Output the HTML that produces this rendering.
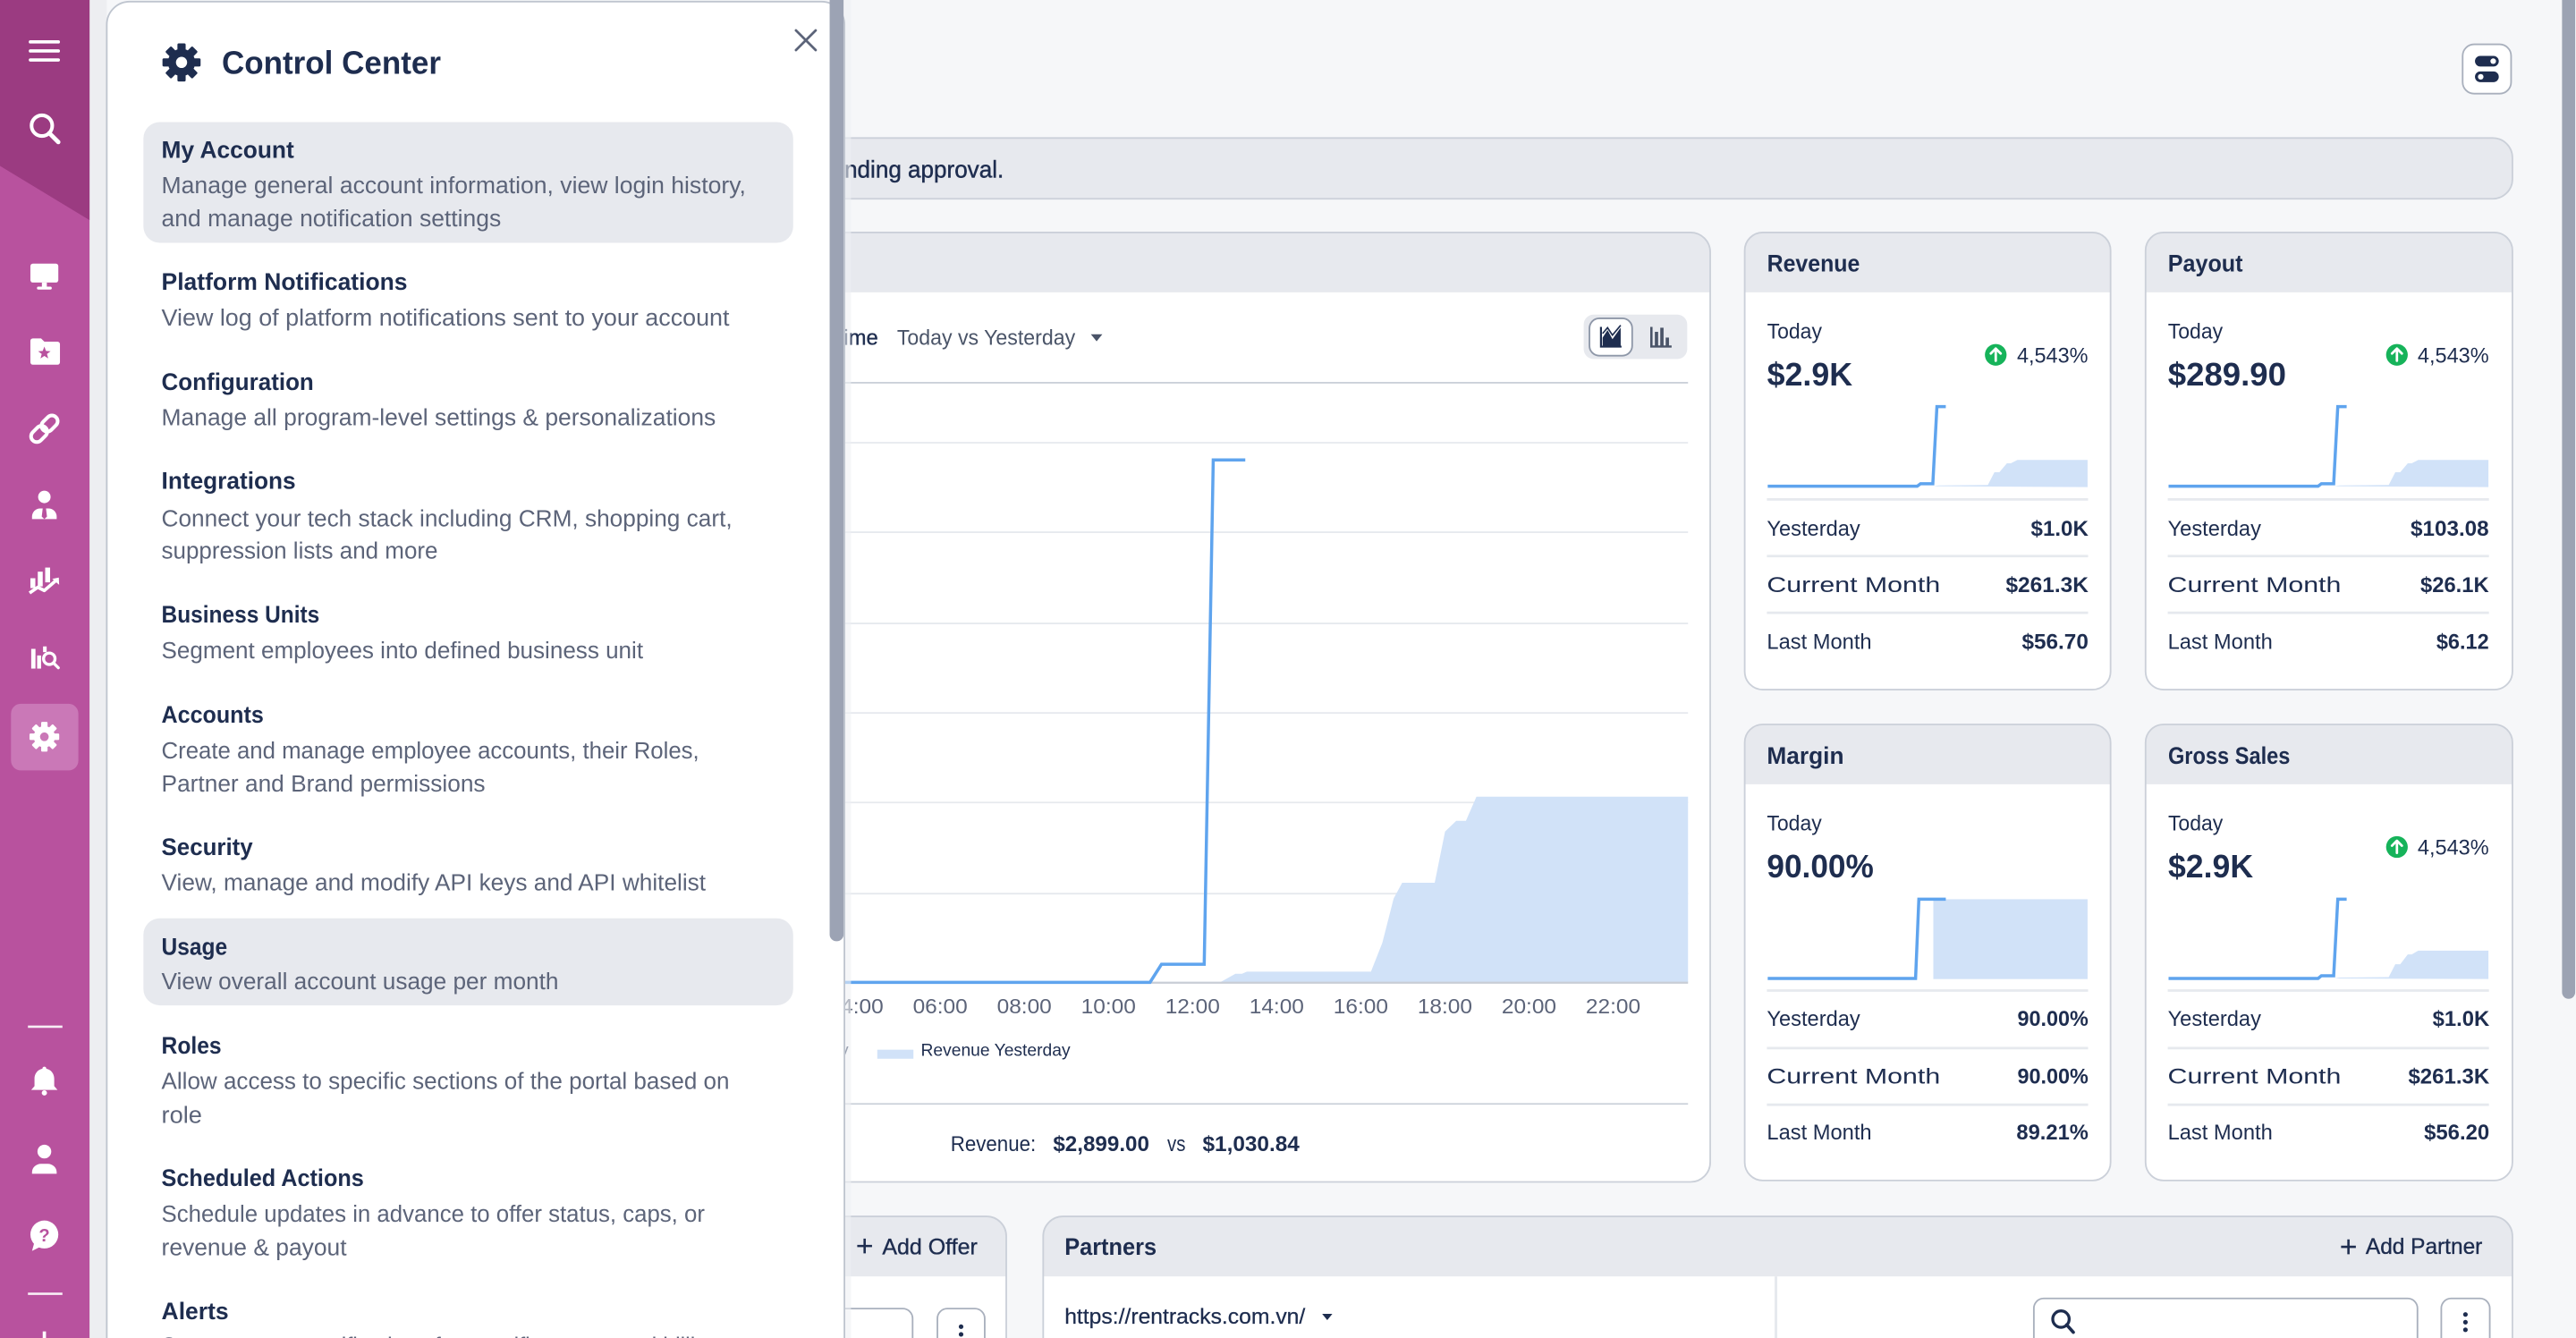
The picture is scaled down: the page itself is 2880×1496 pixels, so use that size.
<!DOCTYPE html>
<html><head><meta charset="utf-8"><style>
html,body{margin:0;padding:0;background:#F6F7F9;overflow:hidden;width:2880px;height:1496px;}
svg{display:block;overflow:hidden;}
.t{font-family:'Liberation Sans',sans-serif;fill:#1E2D4F;}
.b{font-weight:700;}
.g{fill:#5C6479;}
</style></head><body>
<svg xmlns="http://www.w3.org/2000/svg" width="2880" height="1496" viewBox="0 0 1568 814.5" preserveAspectRatio="none">
<defs><clipPath id="cp"><rect x="0" y="0" width="1568" height="814.5"/></clipPath></defs>
<g clip-path="url(#cp)">
<rect x="0" y="0" width="1568" height="814.5" fill="#F6F7F9"/>

<!-- top right toggle button -->
<rect x="1499" y="27" width="29.5" height="30" rx="7" fill="#fff" stroke="#A9B0BD" stroke-width="1"/>
<rect x="1506.5" y="34" width="14.5" height="6.5" rx="3.25" fill="#1E2D4F"/>
<circle cx="1517.6" cy="37.25" r="1.7" fill="#fff"/>
<rect x="1506.5" y="43.5" width="14.5" height="6.5" rx="3.25" fill="#1E2D4F"/>
<circle cx="1510" cy="46.75" r="1.7" fill="#fff"/>

<!-- banner -->
<rect x="80" y="84" width="1449.3" height="37" rx="12" fill="#E7E9EE" stroke="#CBD0D9" stroke-width="1"/>
<text class="t" x="300" y="108" font-size="14.5">You have items pe</text>
<text class="t" x="514" y="108" font-size="14.5" stroke="#1E2D4F" stroke-width="0.25" textLength="97" lengthAdjust="spacingAndGlyphs">nding approval.</text>

<!-- chart card -->
<rect x="80" y="141.5" width="961" height="578" rx="12" fill="#fff"/>
<path d="M80,178 V153.5 A12 12 0 0 1 92,141.5 H1029 A12 12 0 0 1 1041,153.5 V178 Z" fill="#E7E9EE"/>
<rect x="80" y="141.5" width="961" height="578" rx="12" fill="none" stroke="#CBD0D9" stroke-width="1"/>

<text class="t" x="534.5" y="210" font-size="13" text-anchor="end" stroke="#1E2D4F" stroke-width="0.2">Time</text>
<text class="t" x="546" y="210" font-size="13" style="fill:#4A5468" textLength="108.5" lengthAdjust="spacingAndGlyphs">Today vs Yesterday</text>
<polygon points="664,203.5 671,203.5 667.5,207.8" fill="#4A5468"/>

<rect x="964" y="191.5" width="63" height="27" rx="6" fill="#E7E9EE"/>
<rect x="967.5" y="193.8" width="26" height="22.7" rx="6" fill="#fff" stroke="#8E97A8" stroke-width="1"/>
<path d="M974.5,199 V211 H987" fill="none" stroke="#1E2D4F" stroke-width="1.2"/>
<polygon points="975.5,211 975.5,205.5 978.5,201 981.5,206.5 986.5,199.5 986.5,211" fill="#1E2D4F"/>
<polyline points="975.5,203 978.5,199.5 981.5,204 986.5,198" fill="none" stroke="#1E2D4F" stroke-width="0.9"/>
<g fill="#4A5468">
<rect x="1004.5" y="199" width="1.4" height="12.5"/>
<rect x="1007.3" y="202" width="2" height="8.5"/>
<rect x="1010.6" y="199.5" width="2" height="11"/>
<rect x="1013.9" y="205.5" width="2" height="5"/>
<rect x="1004.5" y="210.3" width="13" height="1.3"/>
</g>

<line x1="80" y1="233" x2="1027.5" y2="233" stroke="#CBD0D9" stroke-width="1"/>
<g stroke="#E6E9EE" stroke-width="1">
<line x1="80" y1="269.5" x2="1027.5" y2="269.5"/>
<line x1="80" y1="324" x2="1027.5" y2="324"/>
<line x1="80" y1="379.5" x2="1027.5" y2="379.5"/>
<line x1="80" y1="434" x2="1027.5" y2="434"/>
<line x1="80" y1="488.5" x2="1027.5" y2="488.5"/>
<line x1="80" y1="544" x2="1027.5" y2="544"/>
</g>
<polygon points="742.6,598 752,592.8 756,592.8 759,591.5 834.5,591.5 841.4,574 848.3,547 853.5,537.4 873.3,537.4 879.6,506.2 886.4,499.7 892.3,499.7 898.7,485 1027.5,485 1027.5,598" fill="#D1E2F8"/>
<line x1="80" y1="598.2" x2="1027.5" y2="598.2" stroke="#C8CDD6" stroke-width="1.2"/>
<polyline points="60,598 700,598 707,587 733,587 738.5,280 758,280" fill="none" stroke="#5FA4EE" stroke-width="1.9"/>

<g class="t g" font-size="12.5" text-anchor="middle">
<text x="418.7" y="617" textLength="33.3" lengthAdjust="spacingAndGlyphs">00:00</text>
<text x="469.9" y="617" textLength="33.3" lengthAdjust="spacingAndGlyphs">02:00</text>
<text x="521.1" y="617" textLength="33.3" lengthAdjust="spacingAndGlyphs">04:00</text>
<text x="572.3" y="617" textLength="33.3" lengthAdjust="spacingAndGlyphs">06:00</text>
<text x="623.5" y="617" textLength="33.3" lengthAdjust="spacingAndGlyphs">08:00</text>
<text x="674.7" y="617" textLength="33.3" lengthAdjust="spacingAndGlyphs">10:00</text>
<text x="725.9" y="617" textLength="33.3" lengthAdjust="spacingAndGlyphs">12:00</text>
<text x="777.1" y="617" textLength="33.3" lengthAdjust="spacingAndGlyphs">14:00</text>
<text x="828.3" y="617" textLength="33.3" lengthAdjust="spacingAndGlyphs">16:00</text>
<text x="879.5" y="617" textLength="33.3" lengthAdjust="spacingAndGlyphs">18:00</text>
<text x="930.7" y="617" textLength="33.3" lengthAdjust="spacingAndGlyphs">20:00</text>
<text x="981.9" y="617" textLength="33.3" lengthAdjust="spacingAndGlyphs">22:00</text>
</g>

<line x1="420" y1="641.5" x2="442" y2="641.5" stroke="#5FA4EE" stroke-width="2"/>
<text class="t" x="516.5" y="642.8" font-size="10.5" text-anchor="end">Revenue Today</text>
<rect x="534" y="639" width="22" height="5.5" fill="#D1E2F8"/>
<text class="t" x="560.5" y="642.8" font-size="10.5" textLength="91" lengthAdjust="spacingAndGlyphs">Revenue Yesterday</text>

<line x1="80" y1="672" x2="1027.5" y2="672" stroke="#CBD0D9" stroke-width="1"/>
<text class="t" x="578.6" y="700.8" font-size="13" textLength="52" lengthAdjust="spacingAndGlyphs">Revenue:</text>
<text class="t b" x="641" y="700.8" font-size="13" textLength="58.6" lengthAdjust="spacingAndGlyphs">$2,899.00</text>
<text class="t" x="710.5" y="700.8" font-size="13" textLength="11.1" lengthAdjust="spacingAndGlyphs">vs</text>
<text class="t b" x="732" y="700.8" font-size="13" textLength="59" lengthAdjust="spacingAndGlyphs">$1,030.84</text>

<!-- Revenue card -->
<rect x="1062" y="141.5" width="222.7" height="278.3" rx="11" fill="#fff"/>
<path d="M1062,178 V152.5 A11 11 0 0 1 1073,141.5 H1273.7 A11 11 0 0 1 1284.7,152.5 V178 Z" fill="#E7E9EE"/>
<rect x="1062" y="141.5" width="222.7" height="278.3" rx="11" fill="none" stroke="#CBD0D9" stroke-width="1"/>
<text class="t b" x="1075.6" y="165.3" font-size="14.5" textLength="56.5" lengthAdjust="spacingAndGlyphs">Revenue</text>
<text class="t" x="1075.6" y="206" font-size="13" textLength="33.4" lengthAdjust="spacingAndGlyphs">Today</text>
<text class="t b" x="1075.6" y="234.7" font-size="19.5" textLength="52" lengthAdjust="spacingAndGlyphs">$2.9K</text>
<circle cx="1214.8" cy="216" r="6.6" fill="#16B35A"/>
<path d="M1214.8,219.6 V212.4 M1211.8,215.2 L1214.8,212.2 L1217.8,215.2" fill="none" stroke="#fff" stroke-width="1.5" stroke-linecap="round" stroke-linejoin="round"/>
<text class="t" x="1227.7" y="220.7" font-size="13" textLength="43.3" lengthAdjust="spacingAndGlyphs">4,543%</text>
<polygon points="1177,296 1180,295.5 1210,295.2 1214,287.5 1217,287.5 1221.6,282 1224,282 1228,280 1270.7,280 1270.7,296.5" fill="#D1E2F8"/>
<polyline points="1076,296 1167,296 1169,294.5 1176.5,294.5 1179,247.5 1184.4,247.5" fill="none" stroke="#5FA4EE" stroke-width="1.9"/>
<g stroke="#E6E9EE" stroke-width="1.5"><line x1="1075.5" y1="304" x2="1271" y2="304"/><line x1="1075.5" y1="338.5" x2="1271" y2="338.5"/><line x1="1075.5" y1="373" x2="1271" y2="373"/></g>
<text class="t" x="1075.5" y="326" font-size="13" textLength="56.8" lengthAdjust="spacingAndGlyphs">Yesterday</text>
<text class="t" x="1075.5" y="360.5" font-size="13" textLength="105.5" lengthAdjust="spacingAndGlyphs">Current Month</text>
<text class="t" x="1075.5" y="395" font-size="13" textLength="63.8" lengthAdjust="spacingAndGlyphs">Last Month</text>
<text class="t b" x="1236.2" y="326" font-size="13" textLength="35" lengthAdjust="spacingAndGlyphs">$1.0K</text>
<text class="t b" x="1220.9" y="360.5" font-size="13" textLength="50.3" lengthAdjust="spacingAndGlyphs">$261.3K</text>
<text class="t b" x="1230.7" y="395" font-size="13" textLength="40.5" lengthAdjust="spacingAndGlyphs">$56.70</text>

<!-- Payout card -->
<rect x="1306" y="141.5" width="223.3" height="278.3" rx="11" fill="#fff"/>
<path d="M1306,178 V152.5 A11 11 0 0 1 1317,141.5 H1518.3 A11 11 0 0 1 1529.3,152.5 V178 Z" fill="#E7E9EE"/>
<rect x="1306" y="141.5" width="223.3" height="278.3" rx="11" fill="none" stroke="#CBD0D9" stroke-width="1"/>
<text class="t b" x="1319.6" y="165.3" font-size="14.5" textLength="45.6" lengthAdjust="spacingAndGlyphs">Payout</text>
<text class="t" x="1319.6" y="206" font-size="13" textLength="33.4" lengthAdjust="spacingAndGlyphs">Today</text>
<text class="t b" x="1319.6" y="234.7" font-size="19.5" textLength="72" lengthAdjust="spacingAndGlyphs">$289.90</text>
<circle cx="1459" cy="216" r="6.6" fill="#16B35A"/>
<path d="M1459,219.6 V212.4 M1456,215.2 L1459,212.2 L1462,215.2" fill="none" stroke="#fff" stroke-width="1.5" stroke-linecap="round" stroke-linejoin="round"/>
<text class="t" x="1471.6" y="220.7" font-size="13" textLength="43.4" lengthAdjust="spacingAndGlyphs">4,543%</text>
<polygon points="1421,296 1424,295.5 1454,295.2 1458,287.5 1461,287.5 1465.6,282 1468,282 1472,280 1514.7,280 1514.7,296.5" fill="#D1E2F8"/>
<polyline points="1320,296 1411,296 1413,294.5 1420.5,294.5 1423,247.5 1428.4,247.5" fill="none" stroke="#5FA4EE" stroke-width="1.9"/>
<g stroke="#E6E9EE" stroke-width="1.5"><line x1="1319.5" y1="304" x2="1515" y2="304"/><line x1="1319.5" y1="338.5" x2="1515" y2="338.5"/><line x1="1319.5" y1="373" x2="1515" y2="373"/></g>
<text class="t" x="1319.5" y="326" font-size="13" textLength="56.8" lengthAdjust="spacingAndGlyphs">Yesterday</text>
<text class="t" x="1319.5" y="360.5" font-size="13" textLength="105.5" lengthAdjust="spacingAndGlyphs">Current Month</text>
<text class="t" x="1319.5" y="395" font-size="13" textLength="63.8" lengthAdjust="spacingAndGlyphs">Last Month</text>
<text class="t b" x="1467.3" y="326" font-size="13" textLength="47.7" lengthAdjust="spacingAndGlyphs">$103.08</text>
<text class="t b" x="1473.3" y="360.5" font-size="13" textLength="41.7" lengthAdjust="spacingAndGlyphs">$26.1K</text>
<text class="t b" x="1483" y="395" font-size="13" textLength="32" lengthAdjust="spacingAndGlyphs">$6.12</text>

<!-- Margin card -->
<rect x="1062" y="441" width="222.7" height="277.6" rx="11" fill="#fff"/>
<path d="M1062,477.4 V452 A11 11 0 0 1 1073,441 H1273.7 A11 11 0 0 1 1284.7,452 V477.4 Z" fill="#E7E9EE"/>
<rect x="1062" y="441" width="222.7" height="277.6" rx="11" fill="none" stroke="#CBD0D9" stroke-width="1"/>
<text class="t b" x="1075.5" y="465" font-size="14.5" textLength="46.9" lengthAdjust="spacingAndGlyphs">Margin</text>
<text class="t" x="1075.5" y="505.6" font-size="13" textLength="33.4" lengthAdjust="spacingAndGlyphs">Today</text>
<text class="t b" x="1075.5" y="534" font-size="19.5" textLength="65" lengthAdjust="spacingAndGlyphs">90.00%</text>
<rect x="1176.8" y="547.4" width="93.9" height="48.6" fill="#D1E2F8"/>
<polyline points="1076,595.6 1166,595.6 1168,547.4 1184.4,547.4" fill="none" stroke="#5FA4EE" stroke-width="1.9"/>
<g stroke="#E6E9EE" stroke-width="1.5"><line x1="1075.5" y1="603" x2="1271" y2="603"/><line x1="1075.5" y1="638" x2="1271" y2="638"/><line x1="1075.5" y1="672.5" x2="1271" y2="672.5"/></g>
<text class="t" x="1075.5" y="624.5" font-size="13" textLength="56.8" lengthAdjust="spacingAndGlyphs">Yesterday</text>
<text class="t" x="1075.5" y="659.5" font-size="13" textLength="105.5" lengthAdjust="spacingAndGlyphs">Current Month</text>
<text class="t" x="1075.5" y="693.5" font-size="13" textLength="63.8" lengthAdjust="spacingAndGlyphs">Last Month</text>
<text class="t b" x="1228" y="624.5" font-size="13" textLength="43.2" lengthAdjust="spacingAndGlyphs">90.00%</text>
<text class="t b" x="1228" y="659.5" font-size="13" textLength="43.2" lengthAdjust="spacingAndGlyphs">90.00%</text>
<text class="t b" x="1227.4" y="693.5" font-size="13" textLength="43.8" lengthAdjust="spacingAndGlyphs">89.21%</text>

<!-- Gross Sales card -->
<rect x="1306" y="441" width="223.3" height="277.6" rx="11" fill="#fff"/>
<path d="M1306,477.4 V452 A11 11 0 0 1 1317,441 H1518.3 A11 11 0 0 1 1529.3,452 V477.4 Z" fill="#E7E9EE"/>
<rect x="1306" y="441" width="223.3" height="277.6" rx="11" fill="none" stroke="#CBD0D9" stroke-width="1"/>
<text class="t b" x="1319.7" y="465" font-size="14.5" textLength="74.3" lengthAdjust="spacingAndGlyphs">Gross Sales</text>
<text class="t" x="1319.7" y="505.6" font-size="13" textLength="33.4" lengthAdjust="spacingAndGlyphs">Today</text>
<text class="t b" x="1319.7" y="534" font-size="19.5" textLength="51.8" lengthAdjust="spacingAndGlyphs">$2.9K</text>
<circle cx="1459" cy="515.6" r="6.6" fill="#16B35A"/>
<path d="M1459,519.2 V512 M1456,514.8 L1459,511.8 L1462,514.8" fill="none" stroke="#fff" stroke-width="1.5" stroke-linecap="round" stroke-linejoin="round"/>
<text class="t" x="1471.6" y="520.2" font-size="13" textLength="43.4" lengthAdjust="spacingAndGlyphs">4,543%</text>
<polygon points="1421,595.6 1424,595.1 1454,594.8 1458,587 1461,587 1465.6,581 1468,581 1472,578.7 1514.7,578.7 1514.7,596" fill="#D1E2F8"/>
<polyline points="1320,595.6 1411,595.6 1413,594 1420.5,594 1423,547.4 1428.4,547.4" fill="none" stroke="#5FA4EE" stroke-width="1.9"/>
<g stroke="#E6E9EE" stroke-width="1.5"><line x1="1319.5" y1="603" x2="1515" y2="603"/><line x1="1319.5" y1="638" x2="1515" y2="638"/><line x1="1319.5" y1="672.5" x2="1515" y2="672.5"/></g>
<text class="t" x="1319.5" y="624.5" font-size="13" textLength="56.8" lengthAdjust="spacingAndGlyphs">Yesterday</text>
<text class="t" x="1319.5" y="659.5" font-size="13" textLength="105.5" lengthAdjust="spacingAndGlyphs">Current Month</text>
<text class="t" x="1319.5" y="693.5" font-size="13" textLength="63.8" lengthAdjust="spacingAndGlyphs">Last Month</text>
<text class="t b" x="1480.7" y="624.5" font-size="13" textLength="34.6" lengthAdjust="spacingAndGlyphs">$1.0K</text>
<text class="t b" x="1465.9" y="659.5" font-size="13" textLength="49.4" lengthAdjust="spacingAndGlyphs">$261.3K</text>
<text class="t b" x="1475.5" y="693.5" font-size="13" textLength="39.8" lengthAdjust="spacingAndGlyphs">$56.20</text>

<!-- Offers card -->
<rect x="80" y="740.5" width="532.5" height="100" rx="12" fill="#fff"/>
<path d="M80,777 V752.5 A12 12 0 0 1 92,740.5 H600.5 A12 12 0 0 1 612.5,752.5 V777 Z" fill="#E7E9EE"/>
<rect x="80" y="740.5" width="532.5" height="100" rx="12" fill="none" stroke="#CBD0D9" stroke-width="1"/>
<path d="M526.3,754 V763 M521.8,758.5 H530.8" stroke="#1E2D4F" stroke-width="1.4"/>
<text class="t" x="537" y="763.5" font-size="13.5" stroke="#1E2D4F" stroke-width="0.2" textLength="58" lengthAdjust="spacingAndGlyphs">Add Offer</text>
<rect x="300" y="796.6" width="255.5" height="30" rx="6" fill="#fff" stroke="#A9B0BD" stroke-width="1"/>
<rect x="570.6" y="796.6" width="28.8" height="30" rx="6" fill="#fff" stroke="#A9B0BD" stroke-width="1"/>
<circle cx="585" cy="807.6" r="1.4" fill="#1E2D4F"/><circle cx="585" cy="812.3" r="1.4" fill="#1E2D4F"/>

<!-- Partners card -->
<rect x="635" y="740.5" width="894.3" height="100" rx="12" fill="#fff"/>
<path d="M635,777 V752.5 A12 12 0 0 1 647,740.5 H1517.3 A12 12 0 0 1 1529.3,752.5 V777 Z" fill="#E7E9EE"/>
<rect x="635" y="740.5" width="894.3" height="100" rx="12" fill="none" stroke="#CBD0D9" stroke-width="1"/>
<text class="t b" x="648" y="764" font-size="14.5" textLength="56" lengthAdjust="spacingAndGlyphs">Partners</text>
<path d="M1429.5,754.5 V763.5 M1425,759 H1434" stroke="#1E2D4F" stroke-width="1.4"/>
<text class="t" x="1440" y="763.3" font-size="13.5" stroke="#1E2D4F" stroke-width="0.2" textLength="71" lengthAdjust="spacingAndGlyphs">Add Partner</text>
<text class="t" x="648" y="805.8" font-size="13" stroke="#1E2D4F" stroke-width="0.15" textLength="146.5" lengthAdjust="spacingAndGlyphs">https://rentracks.com.vn/</text>
<polygon points="804.8,799.8 811,799.8 807.9,803.6" fill="#1E2D4F"/>
<line x1="1081" y1="777" x2="1081" y2="814.5" stroke="#E6E9EE" stroke-width="1.6"/>
<rect x="1238" y="790.4" width="233.5" height="30" rx="6" fill="#fff" stroke="#A9B0BD" stroke-width="1"/>
<circle cx="1254.5" cy="803" r="5" fill="none" stroke="#1E2D4F" stroke-width="1.8"/>
<line x1="1258" y1="806.5" x2="1262" y2="811" stroke="#1E2D4F" stroke-width="2" stroke-linecap="round"/>
<rect x="1486" y="790.4" width="29.5" height="30" rx="6" fill="#fff" stroke="#A9B0BD" stroke-width="1"/>
<circle cx="1500.7" cy="800.2" r="1.4" fill="#1E2D4F"/><circle cx="1500.7" cy="804.9" r="1.4" fill="#1E2D4F"/><circle cx="1500.7" cy="809.5" r="1.4" fill="#1E2D4F"/>

<!-- main scrollbar -->
<rect x="1559.5" y="-6" width="8" height="614" rx="4" fill="#9CA3B3"/>

<!-- panel shadow strip -->
<rect x="54" y="0" width="11" height="814.5" fill="#EDEEF1"/>
<rect x="514" y="0" width="4" height="814.5" fill="#EEF0F3" opacity="0.6"/>

<!-- Control Center panel -->
<rect x="65" y="1" width="449" height="840" rx="14" fill="#fff" stroke="#BFC5CF" stroke-width="1"/>
<rect x="505" y="-6" width="8.5" height="579" rx="4.2" fill="#9CA3B4"/>

<g transform="translate(110.5,38)" fill="#1E2D4F">
<circle r="8.3"/>
<rect x="-2.5" y="-11.6" width="5" height="5.5" rx="0.8"/>
<rect x="-2.5" y="-11.6" width="5" height="5.5" rx="0.8" transform="rotate(45)"/>
<rect x="-2.5" y="-11.6" width="5" height="5.5" rx="0.8" transform="rotate(90)"/>
<rect x="-2.5" y="-11.6" width="5" height="5.5" rx="0.8" transform="rotate(135)"/>
<rect x="-2.5" y="-11.6" width="5" height="5.5" rx="0.8" transform="rotate(180)"/>
<rect x="-2.5" y="-11.6" width="5" height="5.5" rx="0.8" transform="rotate(225)"/>
<rect x="-2.5" y="-11.6" width="5" height="5.5" rx="0.8" transform="rotate(270)"/>
<rect x="-2.5" y="-11.6" width="5" height="5.5" rx="0.8" transform="rotate(315)"/>
<circle r="3.4" fill="#fff"/>
</g>
<text class="t b" x="135" y="45" font-size="19.5" textLength="133.4" lengthAdjust="spacingAndGlyphs">Control Center</text>
<path d="M484.5,18.5 L496.5,30.5 M496.5,18.5 L484.5,30.5" stroke="#5C6479" stroke-width="1.5" stroke-linecap="round"/>

<rect x="87.3" y="74.3" width="395.5" height="73.5" rx="10" fill="#E7E9EE"/>
<rect x="87.3" y="559" width="395.5" height="53" rx="10" fill="#E7E9EE"/>

<g font-size="14.5">
<text class="t b" x="98.3" y="96.2" textLength="80.7" lengthAdjust="spacingAndGlyphs">My Account</text>
<text class="t b" x="98.3" y="176.5" textLength="149.7" lengthAdjust="spacingAndGlyphs">Platform Notifications</text>
<text class="t b" x="98.3" y="237.5" textLength="92.7" lengthAdjust="spacingAndGlyphs">Configuration</text>
<text class="t b" x="98.3" y="297.5" textLength="81.7" lengthAdjust="spacingAndGlyphs">Integrations</text>
<text class="t b" x="98.3" y="379" textLength="96.2" lengthAdjust="spacingAndGlyphs">Business Units</text>
<text class="t b" x="98.3" y="439.8" textLength="62.2" lengthAdjust="spacingAndGlyphs">Accounts</text>
<text class="t b" x="98.3" y="520.4" textLength="55.6" lengthAdjust="spacingAndGlyphs">Security</text>
<text class="t b" x="98.3" y="581.2" textLength="40.1" lengthAdjust="spacingAndGlyphs">Usage</text>
<text class="t b" x="98.3" y="641.4" textLength="36.5" lengthAdjust="spacingAndGlyphs">Roles</text>
<text class="t b" x="98.3" y="722" textLength="123.2" lengthAdjust="spacingAndGlyphs">Scheduled Actions</text>
<text class="t b" x="98.3" y="803" textLength="40.9" lengthAdjust="spacingAndGlyphs">Alerts</text>
</g>
<g font-size="14">
<text class="t g" x="98.3" y="117.6" textLength="355.7" lengthAdjust="spacingAndGlyphs">Manage general account information, view login history,</text>
<text class="t g" x="98.3" y="137.7" textLength="206.7" lengthAdjust="spacingAndGlyphs">and manage notification settings</text>
<text class="t g" x="98.3" y="198.3" textLength="345.7" lengthAdjust="spacingAndGlyphs">View log of platform notifications sent to your account</text>
<text class="t g" x="98.3" y="259" textLength="337.4" lengthAdjust="spacingAndGlyphs">Manage all program-level settings &amp; personalizations</text>
<text class="t g" x="98.3" y="320.5" textLength="347.4" lengthAdjust="spacingAndGlyphs">Connect your tech stack including CRM, shopping cart,</text>
<text class="t g" x="98.3" y="340" textLength="168.2" lengthAdjust="spacingAndGlyphs">suppression lists and more</text>
<text class="t g" x="98.3" y="400.7" textLength="293.2" lengthAdjust="spacingAndGlyphs">Segment employees into defined business unit</text>
<text class="t g" x="98.3" y="461.6" textLength="327.3" lengthAdjust="spacingAndGlyphs">Create and manage employee accounts, their Roles,</text>
<text class="t g" x="98.3" y="481.9" textLength="197.1" lengthAdjust="spacingAndGlyphs">Partner and Brand permissions</text>
<text class="t g" x="98.3" y="542" textLength="331.3" lengthAdjust="spacingAndGlyphs">View, manage and modify API keys and API whitelist</text>
<text class="t g" x="98.3" y="602.3" textLength="241.7" lengthAdjust="spacingAndGlyphs">View overall account usage per month</text>
<text class="t g" x="98.3" y="663" textLength="345.7" lengthAdjust="spacingAndGlyphs">Allow access to specific sections of the portal based on</text>
<text class="t g" x="98.3" y="683.6" textLength="24.7" lengthAdjust="spacingAndGlyphs">role</text>
<text class="t g" x="98.3" y="743.7" textLength="330.7" lengthAdjust="spacingAndGlyphs">Schedule updates in advance to offer status, caps, or</text>
<text class="t g" x="98.3" y="764.2" textLength="112.7" lengthAdjust="spacingAndGlyphs">revenue &amp; payout</text>
<text class="t g" x="98.3" y="824" textLength="340" lengthAdjust="spacingAndGlyphs">Set up custom notifications for specific events and billing</text>
</g>

<!-- sidebar -->
<rect x="0" y="0" width="54.5" height="814.5" fill="#B8529E"/>
<polygon points="0,0 54.5,0 54.5,134 0,101" fill="#9B3B81"/>
<g stroke="#fff" stroke-width="2" stroke-linecap="round">
<line x1="18.5" y1="25.5" x2="35.5" y2="25.5"/>
<line x1="18.5" y1="31" x2="35.5" y2="31"/>
<line x1="18.5" y1="36.5" x2="35.5" y2="36.5"/>
</g>
<circle cx="25.5" cy="76.5" r="6.3" fill="none" stroke="#fff" stroke-width="2.2"/>
<line x1="30" y1="81" x2="35.5" y2="86.5" stroke="#fff" stroke-width="2.6" stroke-linecap="round"/>
<!-- monitor -->
<rect x="18.5" y="160.5" width="17" height="11.5" rx="1.5" fill="#fff"/>
<rect x="25.5" y="172" width="3" height="3" fill="#fff"/>
<rect x="22.5" y="174.5" width="9" height="1.8" rx="0.9" fill="#fff"/>
<!-- folder star -->
<path d="M18.5,207.5 a1.5,1.5 0 0 1 1.5,-1.5 h5 l2,2 h8 a1.5,1.5 0 0 1 1.5,1.5 v11 a1.5,1.5 0 0 1 -1.5,1.5 h-15 a1.5,1.5 0 0 1 -1.5,-1.5 z" fill="#fff"/>
<polygon points="27,211 28,213.6 30.8,213.8 28.6,215.5 29.35,218.2 27,216.7 24.65,218.2 25.4,215.5 23.2,213.8 26,213.6" fill="#B8529E"/>
<!-- link -->
<g transform="rotate(-45 27 261)" fill="none" stroke="#fff" stroke-width="2.2">
<rect x="17" y="257.5" width="11" height="7" rx="3.5"/>
<rect x="26" y="257.5" width="11" height="7" rx="3.5"/>
</g>
<!-- user tie -->
<circle cx="27" cy="302.5" r="3.8" fill="#fff"/>
<path d="M19.5,316 v-1.5 a5,5 0 0 1 5,-5 h5 a5,5 0 0 1 5,5 v1.5 z" fill="#fff"/>
<polygon points="26,309.5 28,309.5 28.6,314.5 27,316 25.4,314.5" fill="#B8529E"/>
<!-- chart -->
<g fill="#fff">
<rect x="18.5" y="352" width="3" height="6"/>
<rect x="23" y="348" width="3" height="9"/>
<rect x="27.5" y="345.5" width="3" height="9"/>
</g>
<polyline points="18,361 23,357.5 27,359.5 34.5,353" fill="none" stroke="#fff" stroke-width="2" stroke-linejoin="round"/>
<polygon points="35.8,351.6 36,356 31.8,352.4" fill="#fff"/>
<!-- chart search -->
<rect x="19" y="395" width="2.6" height="12" fill="#fff"/>
<rect x="22.6" y="399" width="2.4" height="8" fill="#fff"/>
<rect x="26.2" y="393.5" width="2.2" height="3.5" fill="#fff"/>
<circle cx="30" cy="401" r="3.5" fill="none" stroke="#fff" stroke-width="1.8"/>
<line x1="32.6" y1="403.6" x2="35.5" y2="406.5" stroke="#fff" stroke-width="1.8" stroke-linecap="round"/>
<!-- gear highlight -->
<rect x="6.7" y="428.4" width="41" height="40.6" rx="6" fill="#CA78B7"/>
<g transform="translate(27,448.5) scale(0.78)" fill="#fff">
<circle r="8.3"/>
<rect x="-2.5" y="-11.6" width="5" height="5.5" rx="0.8"/>
<rect x="-2.5" y="-11.6" width="5" height="5.5" rx="0.8" transform="rotate(45)"/>
<rect x="-2.5" y="-11.6" width="5" height="5.5" rx="0.8" transform="rotate(90)"/>
<rect x="-2.5" y="-11.6" width="5" height="5.5" rx="0.8" transform="rotate(135)"/>
<rect x="-2.5" y="-11.6" width="5" height="5.5" rx="0.8" transform="rotate(180)"/>
<rect x="-2.5" y="-11.6" width="5" height="5.5" rx="0.8" transform="rotate(225)"/>
<rect x="-2.5" y="-11.6" width="5" height="5.5" rx="0.8" transform="rotate(270)"/>
<rect x="-2.5" y="-11.6" width="5" height="5.5" rx="0.8" transform="rotate(315)"/>
<circle r="3.4" fill="#CA78B7"/>
</g>
<!-- dividers -->
<line x1="17" y1="625" x2="38" y2="625" stroke="#fff" stroke-width="1.4" opacity="0.9"/>
<line x1="17" y1="787.6" x2="38" y2="787.6" stroke="#fff" stroke-width="1.4" opacity="0.9"/>
<!-- bell -->
<path d="M27,650.5 c-3.5,0 -6,2.7 -6,6.2 v4.5 l-2,2.3 h16 l-2,-2.3 v-4.5 c0,-3.5 -2.5,-6.2 -6,-6.2 z" fill="#fff"/>
<circle cx="27" cy="665.3" r="1.6" fill="#fff"/>
<circle cx="27" cy="650.5" r="1.2" fill="#fff"/>
<!-- user -->
<circle cx="27" cy="701" r="4.2" fill="#fff"/>
<path d="M19.5,714.5 v-1 a5.5,5 0 0 1 5.5,-5 h4 a5.5,5 0 0 1 5.5,5 v1 z" fill="#fff"/>
<!-- help -->
<circle cx="27" cy="751.5" r="8.5" fill="#fff"/>
<polygon points="21,756 19.5,761.5 25.5,758.5" fill="#fff"/>
<text x="27" y="755.6" font-size="11" font-weight="700" text-anchor="middle" font-family="'Liberation Sans',sans-serif" fill="#B8529E">?</text>
<rect x="26" y="810.5" width="2" height="4" fill="#fff"/>
</g>
</svg>
</body></html>
